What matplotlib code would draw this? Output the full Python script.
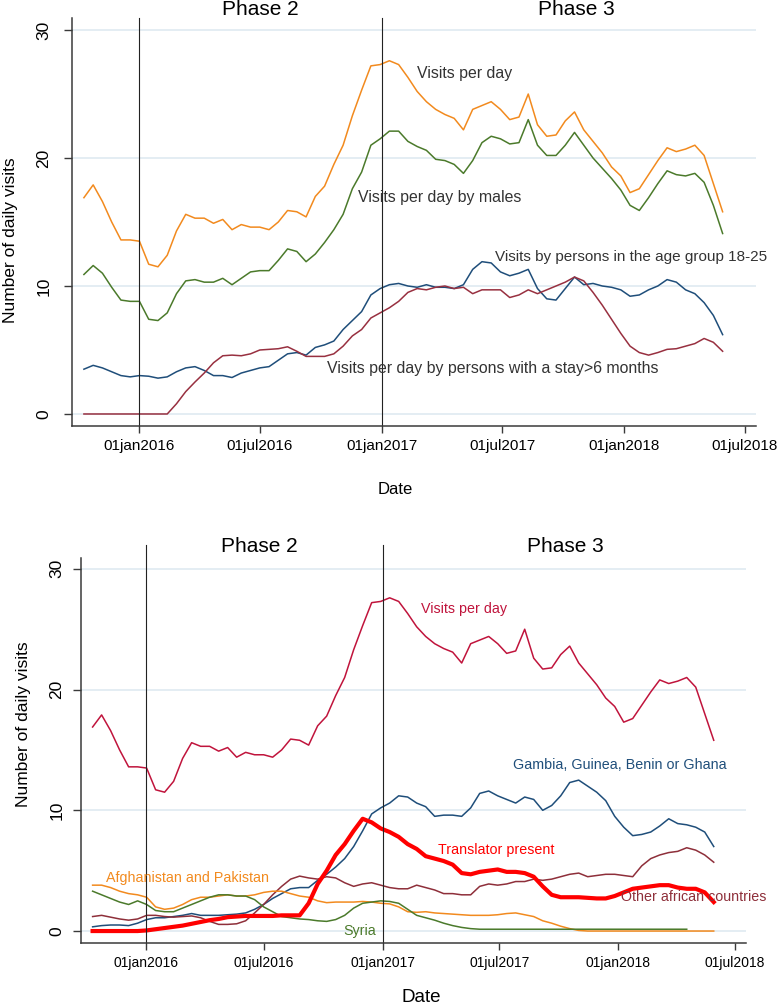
import numpy as np
import pandas as pd
import matplotlib
matplotlib.use('Agg')
import matplotlib.pyplot as plt

plt.rcParams['font.family'] = ['Liberation Sans', 'DejaVu Sans']

# Fechas: 70 puntos, aprox. cada dos semanas
dates = pd.date_range('2015-10-10', '2018-05-29', periods=70)
nan = np.nan

# ---- Panel superior ----
visits = [16.9, 17.9, 16.6, 15.0, 13.6, 13.6, 13.5, 11.7, 11.5, 12.4,
          14.3, 15.6, 15.3, 15.3, 14.9, 15.2, 14.4, 14.8, 14.6, 14.6,
          14.4, 15.0, 15.9, 15.8, 15.4, 17.0, 17.8, 19.5, 21.0, 23.3,
          25.3, 27.2, 27.3, 27.6, 27.3, 26.3, 25.2, 24.4, 23.8, 23.4,
          23.1, 22.2, 23.8, 24.1, 24.4, 23.8, 23.0, 23.2, 25.0, 22.6,
          21.7, 21.8, 22.9, 23.6, 22.2, 21.3, 20.4, 19.3, 18.6, 17.3,
          17.6, 18.7, 19.8, 20.8, 20.5, 20.7, 21.0, 20.2, 18.0, 15.8]
males = [10.9, 11.6, 11.0, 9.9, 8.9, 8.8, 8.8, 7.4, 7.3, 7.9,
         9.4, 10.4, 10.5, 10.3, 10.3, 10.6, 10.1, 10.6, 11.1, 11.2,
         11.2, 12.0, 12.9, 12.7, 11.9, 12.5, 13.4, 14.4, 15.6, 17.6,
         18.9, 21.0, 21.5, 22.1, 22.1, 21.3, 20.9, 20.6, 19.9, 19.8,
         19.5, 18.8, 19.8, 21.2, 21.7, 21.5, 21.1, 21.2, 23.0, 21.0,
         20.2, 20.2, 21.0, 22.0, 21.0, 20.0, 19.2, 18.4, 17.5, 16.3,
         15.9, 16.9, 18.0, 19.0, 18.7, 18.6, 18.8, 18.1, 16.3, 14.1]
age_18_25 = [3.5, 3.8, 3.6, 3.3, 3.0, 2.9, 3.0, 2.95, 2.8, 2.9,
             3.3, 3.6, 3.7, 3.4, 3.0, 3.0, 2.85, 3.2, 3.4, 3.6,
             3.7, 4.2, 4.7, 4.8, 4.6, 5.2, 5.4, 5.7, 6.6, 7.3,
             8.0, 9.3, 9.8, 10.1, 10.2, 10.0, 9.9, 10.1, 9.9, 9.9,
             9.8, 10.1, 11.3, 11.9, 11.8, 11.1, 10.8, 11.0, 11.3, 9.8,
             9.0, 8.9, 9.8, 10.7, 10.1, 10.2, 10.0, 9.9, 9.7, 9.2,
             9.3, 9.7, 10.0, 10.5, 10.3, 9.7, 9.4, 8.7, 7.7, 6.2]
stay_6m = [0, 0, 0, 0, 0, 0, 0, 0, 0, 0,
           0.8, 1.75, 2.5, 3.2, 4.0, 4.55, 4.6, 4.55, 4.7, 5.0,
           5.05, 5.1, 5.25, 4.9, 4.5, 4.5, 4.5, 4.7, 5.3, 6.1,
           6.6, 7.5, 7.9, 8.3, 8.8, 9.5, 9.8, 9.7, 9.9, 10.0,
           9.8, 9.9, 9.4, 9.7, 9.7, 9.7, 9.1, 9.3, 9.7, 9.4,
           9.7, 10.0, 10.3, 10.7, 10.4, 9.5, 8.5, 7.4, 6.3, 5.3,
           4.8, 4.6, 4.8, 5.05, 5.1, 5.3, 5.5, 5.9, 5.6, 4.9]

# ---- Panel inferior ----
gambia = [0.35, 0.45, 0.5, 0.5, 0.45, 0.65, 0.95, 1.1, 1.1, 1.2,
          1.3, 1.45, 1.3, 1.3, 1.3, 1.35, 1.4, 1.5, 1.8, 2.2,
          2.7, 3.1, 3.5, 3.6, 3.6, 4.2, 4.7, 5.3, 6.0, 7.0,
          8.3, 9.7, 10.2, 10.6, 11.2, 11.1, 10.6, 10.3, 9.5, 9.6,
          9.6, 9.5, 10.2, 11.4, 11.6, 11.2, 10.9, 10.6, 11.1, 10.9,
          10.0, 10.4, 11.2, 12.3, 12.5, 12.0, 11.5, 10.8, 9.5, 8.6,
          7.9, 8.0, 8.2, 8.7, 9.3, 8.9, 8.8, 8.6, 8.2, 7.0]
translator = [0, 0, 0, 0, 0, 0, 0.05, 0.15, 0.25, 0.35,
              0.45, 0.6, 0.75, 0.9, 1.0, 1.15, 1.2, 1.25, 1.25, 1.25,
              1.25, 1.3, 1.3, 1.3, 2.3, 3.9, 5.0, 6.3, 7.2, 8.3,
              9.3, 9.0, 8.5, 8.2, 7.8, 7.2, 6.8, 6.2, 6.0, 5.8,
              5.5, 4.8, 4.7, 4.9, 5.0, 5.1, 4.9, 4.9, 4.8, 4.5,
              3.7, 3.0, 2.8, 2.8, 2.8, 2.75, 2.7, 2.7, 2.9, 3.2,
              3.5, 3.6, 3.7, 3.8, 3.8, 3.6, 3.5, 3.5, 3.2, 2.4]
other_africa = [1.2, 1.3, 1.15, 1.0, 0.9, 1.0, 1.3, 1.3, 1.2, 1.15,
                1.2, 1.25, 1.1, 0.8, 0.55, 0.55, 0.6, 0.85, 1.5, 2.2,
                3.0, 3.7, 4.3, 4.55, 4.4, 4.3, 4.5, 4.4, 4.0, 3.7,
                3.9, 4.0, 3.8, 3.6, 3.5, 3.5, 3.8, 3.6, 3.4, 3.1,
                3.1, 3.0, 3.0, 3.7, 3.9, 3.8, 3.9, 4.1, 4.1, 4.3,
                4.2, 4.3, 4.5, 4.7, 4.8, 4.5, 4.6, 4.7, 4.7, 4.6,
                4.5, 5.4, 6.0, 6.3, 6.5, 6.6, 6.9, 6.7, 6.3, 5.7]
afg_pak = [3.8, 3.8, 3.6, 3.3, 3.1, 3.0, 2.8, 2.0, 1.8, 1.9,
           2.2, 2.6, 2.8, 2.8, 2.9, 3.0, 2.9, 2.9, 3.0, 3.2,
           3.3, 3.3, 3.1, 2.9, 2.8, 2.5, 2.35, 2.4, 2.4, 2.4,
           2.45, 2.4, 2.3, 2.25, 2.0, 1.6, 1.55, 1.6, 1.5, 1.45,
           1.4, 1.35, 1.3, 1.3, 1.3, 1.35, 1.45, 1.5, 1.35, 1.2,
           0.85, 0.65, 0.4, 0.2, 0.05, 0, 0, 0, 0, 0,
           0, 0, 0, 0, 0, 0, 0, 0, 0, 0]
syria = [3.3, 3.0, 2.7, 2.4, 2.2, 2.5, 2.2, 1.7, 1.6, 1.6,
         1.9, 2.2, 2.5, 2.8, 3.0, 3.0, 2.9, 2.9, 2.6, 2.0,
         1.6, 1.2, 1.1, 1.0, 0.95, 0.85, 0.8, 0.95, 1.3, 1.9,
         2.3, 2.4, 2.5, 2.45, 2.3, 1.8, 1.3, 1.1, 0.9, 0.65,
         0.45, 0.3, 0.2, 0.15, 0.15, 0.15, 0.15, 0.15, 0.15, 0.15,
         0.15, 0.15, 0.15, 0.15, 0.15, 0.15, 0.15, 0.15, 0.15, 0.15,
         0.15, 0.15, 0.15, 0.15, 0.15, 0.15, 0.15, nan, nan, nan]

xticks = pd.to_datetime(['2016-01-01', '2016-07-01', '2017-01-01',
                         '2017-07-01', '2018-01-01', '2018-07-01'])
xtick_labels = ['01jan2016', '01jul2016', '01jan2017',
                '01jul2017', '01jan2018', '01jul2018']
phase_lines = pd.to_datetime(['2016-01-01', '2017-01-01'])
xlim = (pd.Timestamp('2015-09-22'), pd.Timestamp('2018-07-18'))

axis_col = '#3a3a3a'
grid_col = '#e2ecf2'


def style_axes(ax, ylo, yhi, ypad, xpad, xsize, vline_top):
    ax.set_xlim(*xlim)
    ax.set_ylim(ylo, yhi)
    ax.set_yticks([0, 10, 20, 30])
    ax.yaxis.grid(True, color=grid_col, lw=1.3)
    ax.set_axisbelow(True)
    for s in ['top', 'right']:
        ax.spines[s].set_visible(False)
    for s in ['left', 'bottom']:
        ax.spines[s].set_color(axis_col)
        ax.spines[s].set_linewidth(1.1)
    ax.set_xticks(xticks)
    ax.set_xticklabels(xtick_labels)
    ax.tick_params(axis='x', length=5, width=1, color=axis_col, labelsize=xsize, pad=xpad)
    ax.tick_params(axis='y', length=6, width=1, color=axis_col, labelsize=12.5,
                   pad=ypad, labelrotation=90)
    for lab in ax.get_yticklabels():
        lab.set_va('center')
    for d in phase_lines:
        ax.axvline(d, ymin=0, ymax=vline_top, color='#222222', lw=0.8, clip_on=False)


fig = plt.figure(figsize=(7.78, 10.05), dpi=100)

# ---------- Panel superior ----------
ax1 = fig.add_axes([0.0925, 0.5761, 0.879, 0.406])
ax1.plot(dates, visits, color='#f28a1e', lw=1.1)
ax1.plot(dates, males, color='#4b7a2b', lw=1.1)
ax1.plot(dates, age_18_25, color='#1f4e7a', lw=1.1)
ax1.plot(dates, stay_6m, color='#983040', lw=1.1)
style_axes(ax1, -0.94, 30.94, 9, 4.5, 11, 1.0)

lab_col = '#333333'
ax1.text(0.504, 0.865, 'Visits per day', transform=ax1.transAxes,
         fontsize=11.4, color=lab_col, va='center')
ax1.text(0.418, 0.559, 'Visits per day by males', transform=ax1.transAxes,
         fontsize=11.4, color=lab_col, va='center')
ax1.text(0.618, 0.414, 'Visits by persons in the age group 18-25', transform=ax1.transAxes,
         fontsize=11, color=lab_col, va='center')
ax1.text(0.373, 0.142, 'Visits per day by persons with a stay>6 months', transform=ax1.transAxes,
         fontsize=11.4, color=lab_col, va='center')
ax1.text(0.275, 1.022, 'Phase 2', transform=ax1.transAxes, fontsize=15,
         ha='center', va='center')
ax1.text(0.738, 1.022, 'Phase 3', transform=ax1.transAxes, fontsize=15,
         ha='center', va='center')
fig.text(11 / 778, 1 - 240 / 1005, 'Number of daily visits', rotation=90,
         fontsize=12.5, ha='center', va='center')
fig.text(395 / 778, 1 - 489 / 1005, 'Date', fontsize=12, ha='center', va='center')

# ---------- Panel inferior ----------
ax2 = fig.add_axes([0.1041, 0.0617, 0.8548, 0.3831])
ax2.plot(dates, visits, color='#c0143c', lw=1.1)
ax2.plot(dates, gambia, color='#1f4e7a', lw=1.1)
ax2.plot(dates, other_africa, color='#8e2f3a', lw=1.1)
ax2.plot(dates, afg_pak, color='#f28a1e', lw=1.1)
ax2.plot(dates, syria, color='#4b7a2b', lw=1.1)
ax2.plot(dates, translator, color='#ff0000', lw=3.0)
style_axes(ax2, -0.99, 30.9, 6, 4.5, 10, 1.034)

ax2.text(0.511, 0.868, 'Visits per day', transform=ax2.transAxes,
         fontsize=10.3, color='#c0143c', va='center')
ax2.text(0.650, 0.462, 'Gambia, Guinea, Benin or Ghana', transform=ax2.transAxes,
         fontsize=10.3, color='#1f4e7a', va='center')
ax2.text(0.537, 0.242, 'Translator present', transform=ax2.transAxes,
         fontsize=10.3, color='#ff0000', va='center')
ax2.text(0.812, 0.119, 'Other african countries', transform=ax2.transAxes,
         fontsize=10.3, color='#8e2f3a', va='center')
ax2.text(0.038, 0.169, 'Afghanistan and Pakistan', transform=ax2.transAxes,
         fontsize=10.3, color='#f28a1e', va='center')
ax2.text(0.395, 0.031, 'Syria', transform=ax2.transAxes,
         fontsize=10.3, color='#4b7a2b', va='center')
ax2.text(0.268, 1.029, 'Phase 2', transform=ax2.transAxes, fontsize=15,
         ha='center', va='center')
ax2.text(0.728, 1.029, 'Phase 3', transform=ax2.transAxes, fontsize=15,
         ha='center', va='center')
fig.text(24 / 778, 1 - 724 / 1005, 'Number of daily visits', rotation=90,
         fontsize=12.5, ha='center', va='center')
fig.text(421 / 778, 1 - 997 / 1005, 'Date', fontsize=13.5, ha='center', va='center')

fig.savefig('out.png', dpi=100)
